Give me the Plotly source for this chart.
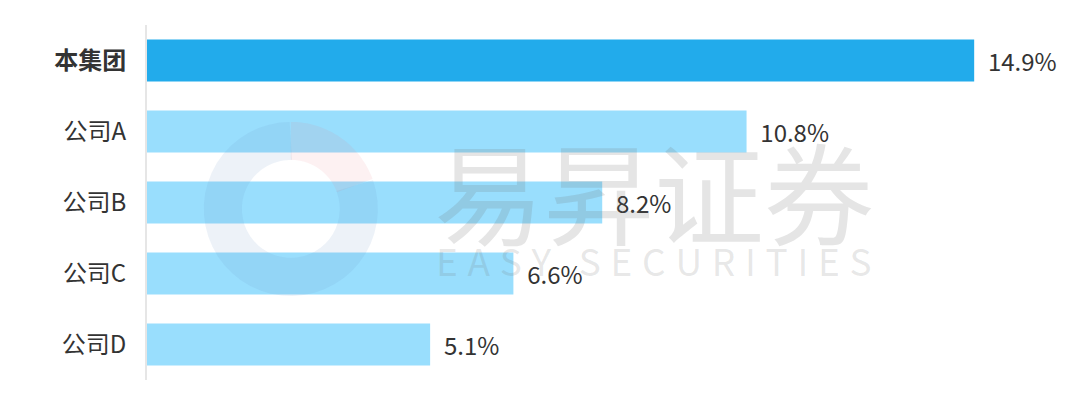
import math
import plotly.graph_objects as go

categories = ["本集团", "公司A", "公司B", "公司C", "公司D"]
tick_labels = ["<b>本集团</b>", "公司A", "公司B", "公司C", "公司D"]
values = [14.9, 10.8, 8.2, 6.6, 5.1]
bar_colors = ["#22ABEB", "#99DEFD", "#99DEFD", "#99DEFD", "#99DEFD"]

FONT = "Noto Sans CJK SC"

fig = go.Figure()
fig.add_trace(go.Bar(
    y=categories, x=values, orientation="h",
    marker=dict(color=bar_colors, line=dict(width=0)),
    width=0.59,
    text=[f"{v:.1f}%" for v in values],
    texttemplate="  %{text}",
    textposition="outside",
    textfont=dict(family=FONT, size=24, color="#333333"),
    cliponaxis=False,
    hoverinfo="skip",
))

# watermark text
fig.add_annotation(text="易昇证券", x=0.553, y=0.538, xref="paper", yref="paper",
                   showarrow=False, font=dict(family=FONT, size=110, color="rgba(110,110,110,0.18)"))
fig.add_annotation(text="\u2009\u200a".join("EASY SECURITIES"), x=0.553, y=0.338, xref="paper", yref="paper",
                   showarrow=False, font=dict(family=FONT, size=37, color="rgba(110,110,110,0.17)"))

# watermark logo: faint ring with a warm arc
W, H = 916, 355
cx, cy, r = 0.157, 0.482, 68

def arc(a0, a1, n=40):
    pts = []
    for i in range(n + 1):
        a = math.radians(a0 + (a1 - a0) * i / n)
        pts.append((cx + r * math.cos(a) / W, cy + r * math.sin(a) / H))
    return "M " + " L ".join(f"{x:.4f},{y:.4f}" for x, y in pts)

fig.add_shape(type="path", xref="paper", yref="paper", path=arc(90, 380),
              line=dict(color="rgba(110,150,200,0.12)", width=38), layer="above")
fig.add_shape(type="path", xref="paper", yref="paper", path=arc(20, 90),
              line=dict(color="rgba(235,120,130,0.10)", width=38), layer="above")

fig.update_layout(
    width=1072, height=411,
    margin=dict(l=139, r=17, t=17, b=39),
    plot_bgcolor="white", paper_bgcolor="white",
    showlegend=False,
    bargap=0.41,
    xaxis=dict(range=[0, 16.5], visible=False, fixedrange=True),
    yaxis=dict(
        categoryorder="array", categoryarray=categories[::-1],
        tickmode="array", tickvals=categories, ticktext=tick_labels,
        showline=True, linecolor="#e6e6e6", linewidth=2,
        showgrid=False, ticks="", ticklabelstandoff=14,
        tickfont=dict(family=FONT, size=24, color="#333333"),
        zeroline=False, automargin=False,
    ),
)

fig.write_html("out.html")
